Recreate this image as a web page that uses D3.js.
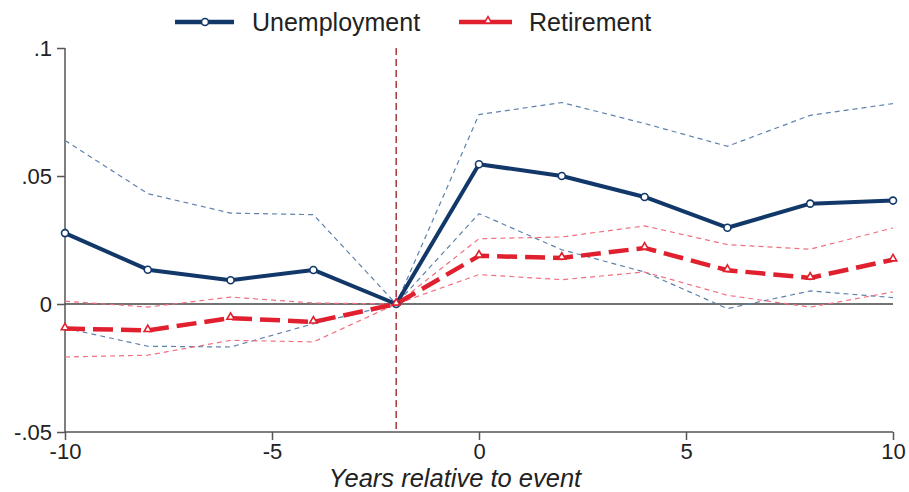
<!DOCTYPE html>
<html><head><meta charset="utf-8">
<script src="https://cdn.jsdelivr.net/npm/d3@7"></script>
<style>body{margin:0;background:#fff}svg{display:block}text{font-family:"Liberation Sans",Arial,sans-serif;fill:#222}</style>
</head><body>
<script>
const years = [-10,-8,-6,-4,-2,0,2,4,6,8,10];
const unemp   = [0.0277,0.0134,0.0093,0.0133,0,0.0546,0.0500,0.0418,0.0298,0.0392,0.0404];
const unempHi = [0.0639,0.0431,0.0355,0.0349,0,0.0740,0.0787,0.0705,0.0616,0.0737,0.0783];
const unempLo = [-0.0094,-0.0165,-0.0168,-0.0077,0,0.0353,0.0212,0.0125,-0.0018,0.0051,0.0025];
const retire   = [-0.0096,-0.0103,-0.0055,-0.0070,0,0.0188,0.0180,0.0219,0.0132,0.0102,0.0173];
const retireHi = [0.0011,-0.0012,0.0027,0.0004,0,0.0255,0.0262,0.0305,0.0232,0.0214,0.0297];
const retireLo = [-0.0207,-0.0200,-0.0142,-0.0148,0,0.0115,0.0095,0.0125,0.0034,-0.0012,0.0047];
const xTicks = [-10,-5,0,5,10];
const yTicks = [-0.05,0,0.05,0.1];
const yTickLabels = ["-.05","0",".05",".1"];
const seriesNames = ["Unemployment","Retirement"];
const eventYear = -2;

const W=909,H=492;
const navy="#12386a", red="#e0202e", ciBlue="#5f82ad", ciRed="#f0707f", vline="#a8383c";
const svg=d3.select("body").append("svg").attr("width",W).attr("height",H);
const x=d3.scaleLinear().domain([-10,10]).range([65,893]);
const y=d3.scaleLinear().domain([-0.05,0.1]).range([432,48]);

// zero line
svg.append("line").attr("x1",x(-10)).attr("x2",x(10)).attr("y1",y(0)).attr("y2",y(0))
  .attr("stroke","#444").attr("stroke-width",1.5);

// axes
const yAxis=svg.append("g").attr("transform",`translate(${x(-10)},0)`)
  .call(d3.axisLeft(y).tickValues(yTicks).tickFormat((d,i)=>yTickLabels[i]).tickSize(8).tickPadding(5));
const xAxis=svg.append("g").attr("transform",`translate(0,${y(-0.05)})`)
  .call(d3.axisBottom(x).tickValues(xTicks).tickFormat(d=>d===0?"0":d3.format("d")(d).replace("−","-")).tickSize(8).tickPadding(3));
[yAxis,xAxis].forEach(g=>{
  g.select(".domain").attr("stroke","#555").attr("stroke-width",1.5)
    .attr("d", g===yAxis? `M0,${y(0.1)}V${y(-0.05)}` : `M${x(-10)},0H${x(10)}`);
  g.selectAll(".tick line").attr("stroke","#555").attr("stroke-width",1.5);
  g.selectAll(".tick text").attr("font-size",22).attr("fill","#222").style("font-family",'"Liberation Sans",Arial,sans-serif');
});

// vertical event line
svg.append("line").attr("x1",x(eventYear)).attr("x2",x(eventYear)).attr("y1",y(0.1)).attr("y2",y(-0.05))
  .attr("stroke",vline).attr("stroke-width",1.5).attr("stroke-dasharray","7,4");

const line=d3.line().x((d,i)=>x(years[i])).y(d=>y(d));

// CI lines
[[unempHi,ciBlue],[unempLo,ciBlue],[retireHi,ciRed],[retireLo,ciRed]].forEach(([arr,c])=>{
  svg.append("path").attr("d",line(arr)).attr("fill","none").attr("stroke",c)
    .attr("stroke-width",1.2).attr("stroke-dasharray","5,4");
});

// main series
svg.append("path").attr("d",line(unemp)).attr("fill","none").attr("stroke",navy).attr("stroke-width",4).attr("stroke-linejoin","round");
svg.append("path").attr("d",line(retire)).attr("fill","none").attr("stroke",red).attr("stroke-width",4.5).attr("stroke-dasharray","20,8");

const tri=d3.symbol().type(d3.symbolTriangle).size(24);
function circ(g,cx,cy){g.append("circle").attr("cx",cx).attr("cy",cy).attr("r",3.5).attr("fill","#fff").attr("stroke",navy).attr("stroke-width",1.6);}
function triM(g,cx,cy){g.append("path").attr("d",tri()).attr("transform",`translate(${cx},${cy-1})`).attr("fill","#fff").attr("stroke",red).attr("stroke-width",1.6);}
const mk=svg.append("g");
unemp.forEach((v,i)=>circ(mk,x(years[i]),y(v)));
retire.forEach((v,i)=>triM(mk,x(years[i]),y(v)));

// x title
svg.append("text").attr("x",455).attr("y",486.5).attr("text-anchor","middle").attr("font-size",25.5)
  .attr("font-style","italic").text("Years relative to event");

// legend
const lg=svg.append("g");
lg.append("line").attr("x1",175).attr("x2",234).attr("y1",22).attr("y2",22).attr("stroke",navy).attr("stroke-width",4.5);
circ(lg,205,22);
lg.append("text").attr("x",252).attr("y",31).attr("font-size",25).text(seriesNames[0]);
lg.append("line").attr("x1",459).attr("x2",512).attr("y1",22).attr("y2",22).attr("stroke",red).attr("stroke-width",4.5);
triM(lg,488,22);
lg.append("text").attr("x",529).attr("y",31).attr("font-size",25).text(seriesNames[1]);
</script>
</body></html>
